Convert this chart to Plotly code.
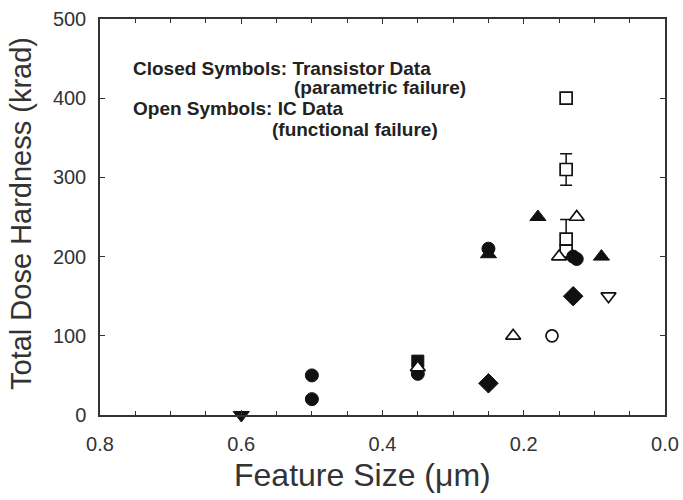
import plotly.graph_objects as go

# ---- data (feature size in um, total dose hardness in krad) ----
closed_circle_x = [0.5, 0.5, 0.35, 0.25, 0.13, 0.125]
closed_circle_y = [50, 20, 52, 210, 200, 197]

closed_triup_x = [0.25, 0.18, 0.09]
closed_triup_y = [203, 250, 200]

closed_tridown_x = [0.6]
closed_tridown_y = [0]

closed_square_x = [0.35]
closed_square_y = [68]

closed_diamond_x = [0.25, 0.13]
closed_diamond_y = [40, 150]

open_square_x = [0.14, 0.14, 0.14, 0.14]
open_square_y = [400, 310, 222, 207]
open_square_err = [None, 20, 25, None]

open_triup_x = [0.35, 0.215, 0.15, 0.125]
open_triup_y = [60, 100, 200, 250]

open_circle_x = [0.16]
open_circle_y = [100]

open_tridown_x = [0.08]
open_tridown_y = [150]

x_tick_vals = [0.8, 0.6, 0.4, 0.2, 0.0]
x_tick_text = ["0.8", "0.6", "0.4", "0.2", "0.0"]
y_tick_vals = [0, 100, 200, 300, 400, 500]

notes = [
    ("Closed Symbols: Transistor Data", 0.055, 0.876),
    ("(parametric failure)", 0.339, 0.826),
    ("Open Symbols: IC Data", 0.055, 0.775),
    ("(functional failure)", 0.300, 0.720),
]

fig = go.Figure()

def add_closed(x, y, sym, size):
    fig.add_trace(go.Scatter(
        x=x, y=y, mode="markers", cliponaxis=False,
        marker=dict(symbol=sym, size=size, color="#111111",
                    line=dict(color="#111111", width=1)),
        showlegend=False))

def add_open(x, y, sym, size, err=None):
    kw = {}
    if err is not None:
        kw["error_y"] = dict(type="data", array=err, visible=True,
                             color="#111111", thickness=1.5, width=6)
    fig.add_trace(go.Scatter(
        x=x, y=y, mode="markers", cliponaxis=False,
        marker=dict(symbol=sym, size=size, color="white",
                    line=dict(color="#111111", width=1.7)),
        showlegend=False, **kw))

add_open(open_square_x, open_square_y, "square", 12, err=open_square_err)
add_open(open_circle_x, open_circle_y, "circle", 12)
add_open(open_tridown_x, open_tridown_y, "triangle-down", 13)
add_closed(closed_circle_x, closed_circle_y, "circle", 13)
add_closed(closed_triup_x, closed_triup_y, "triangle-up", 14)
add_closed(closed_tridown_x, closed_tridown_y, "triangle-down", 14)
add_closed(closed_square_x, closed_square_y, "square", 12)
add_closed(closed_diamond_x, closed_diamond_y, "diamond", 15)
add_open(open_triup_x, open_triup_y, "triangle-up", 13)

for txt, xp, yp in notes:
    fig.add_annotation(text="<b>" + txt + "</b>", x=xp, y=yp, xref="paper", yref="paper",
                       xanchor="left", yanchor="middle", showarrow=False,
                       font=dict(family="Liberation Sans, Arial", size=19, color="#222222"))

fig.add_annotation(text="Total Dose Hardness (krad)", x=-0.14, y=0.51,
                   xref="paper", yref="paper", textangle=-90, showarrow=False,
                   xanchor="center", yanchor="middle",
                   font=dict(family="Liberation Sans, Arial", size=29, color="#333333"))
fig.add_annotation(text="Feature Size (\u03bcm)", x=0.464, y=-0.152,
                   xref="paper", yref="paper", showarrow=False,
                   xanchor="center", yanchor="middle",
                   font=dict(family="Liberation Sans, Arial", size=32, color="#333333"))

axis_common = dict(showline=True, linecolor="#333333", linewidth=1.5, mirror="ticks",
                   ticks="inside", ticklen=5, tickwidth=1.2, tickcolor="#333333",
                   showgrid=False, zeroline=False, automargin=False,
                   tickfont=dict(family="Liberation Sans, Arial", size=20, color="#333333"))

fig.update_xaxes(range=[0.8, 0.0], tickvals=x_tick_vals, ticktext=x_tick_text,
                 minor=dict(dtick=0.05, tick0=0, ticks="inside", ticklen=4,
                            tickcolor="#333333", tickwidth=1),
                 ticklabelstandoff=10, **axis_common)
fig.update_yaxes(range=[0, 500], tickvals=y_tick_vals, ticklabelstandoff=8, **axis_common)

fig.update_layout(width=683, height=500, margin=dict(l=100, r=18, t=19, b=85),
                  plot_bgcolor="white", paper_bgcolor="white")

fig.write_html("out.html")
